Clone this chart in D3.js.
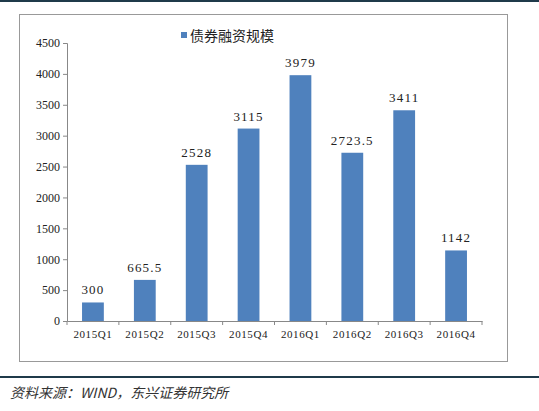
<!DOCTYPE html>
<html><head><meta charset="utf-8">
<script src="https://cdn.jsdelivr.net/npm/d3@7"></script>
<style>body{margin:0;background:#fff}</style>
</head><body><div id="chart"></div>
<script>
const quarters = ["2015Q1","2015Q2","2015Q3","2015Q4","2016Q1","2016Q2","2016Q3","2016Q4"];
const values = [300, 665.5, 2528, 3115, 3979, 2723.5, 3411, 1142];
const labels = ["300","665.5","2528","3115","3979","2723.5","3411","1142"];
const seriesName = "债券融资规模";

const width = 539, height = 411;
const margin = {top: 43, right: 57, bottom: 90, left: 67};
const svg = d3.select("#chart").append("svg").attr("width", width).attr("height", height);
const font = "'Liberation Serif', serif";

svg.append("rect").attr("x", 0).attr("y", 0).attr("width", width).attr("height", 2).attr("fill", "#1f3a4a");
svg.append("rect").attr("x", 19.5).attr("y", 14.5).attr("width", 488).attr("height", 347)
    .attr("fill", "none").attr("stroke", "#999");
svg.append("rect").attr("x", 0).attr("y", 376).attr("width", width).attr("height", 2).attr("fill", "#1f3a4a");

let x = d3.scaleBand().domain(quarters).range([margin.left, width - margin.right]).paddingInner(0.58).paddingOuter(0.29);
let y = d3.scaleLinear().domain([0, 4500]).range([height - margin.bottom, margin.top]);

const xb = d3.scaleBand().domain(quarters).range([margin.left, width - margin.right]);
svg.append("g").attr("transform", `translate(0,${y(0)})`)
    .call(d3.axisBottom(xb).tickSizeOuter(0).tickSize(0))
    .call(g => g.selectAll("text").attr("dy", 14).attr("font-family", font).attr("font-size", 11).attr("letter-spacing", 0.6).attr("fill", "#222"))
    .call(g => g.select(".domain").attr("stroke", "#888"));
svg.append("g").selectAll("line").data(d3.range(quarters.length + 1)).join("line")
    .attr("x1", i => margin.left + i * xb.step()).attr("x2", i => margin.left + i * xb.step())
    .attr("y1", y(0)).attr("y2", y(0) + 4).attr("stroke", "#888");

svg.append("g").attr("transform", `translate(${margin.left},0)`)
    .call(d3.axisLeft(y).tickValues(d3.range(0, 4501, 500)).tickFormat(d3.format("d")).tickSizeOuter(0).tickSize(4))
    .call(g => g.selectAll("text").attr("font-family", font).attr("font-size", 12).attr("fill", "#222"))
    .call(g => g.selectAll("line, .domain").attr("stroke", "#888"));

svg.append("g").selectAll("rect").data(values).join("rect")
    .attr("x", (d, i) => x(quarters[i])).attr("width", x.bandwidth())
    .attr("y", d => y(d)).attr("height", d => y(0) - y(d)).attr("fill", "#4f81bd");

svg.append("g").selectAll("text").data(values).join("text")
    .attr("x", (d, i) => x(quarters[i]) + x.bandwidth() / 2).attr("y", d => y(d) - 8)
    .attr("text-anchor", "middle").attr("font-family", font).attr("font-size", 13).attr("letter-spacing", 1.2)
    .attr("fill", "#222").text((d, i) => labels[i]);

svg.append("rect").attr("x", 181).attr("y", 32).attr("width", 6).attr("height", 6).attr("fill", "#4f81bd");
svg.append("text").attr("x", 190).attr("y", 41).attr("font-family", "'Noto Sans CJK SC'").attr("font-size", 14)
    .attr("fill", "#222").text(seriesName);

svg.append("text").attr("x", 10).attr("y", 398).attr("font-family", "'Noto Sans CJK SC'").attr("font-size", 14)
    .attr("font-style", "italic").attr("fill", "#333").text("资料来源：WIND，东兴证券研究所");
</script></body></html>
